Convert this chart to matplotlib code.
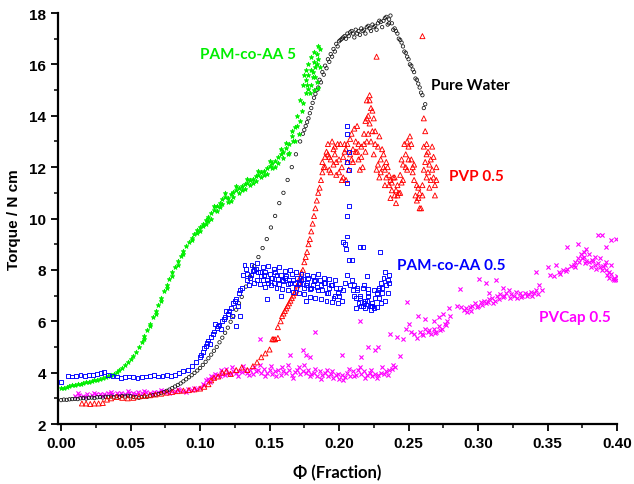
import matplotlib
matplotlib.use("Agg")
import matplotlib.pyplot as plt
from matplotlib.ticker import MultipleLocator

# Pure Water (black open circles)
water_x = [0.000, 0.002, 0.004, 0.006, 0.008, 0.010, 0.012, 0.014, 0.016, 0.018,
           0.020, 0.022, 0.024, 0.026, 0.028, 0.030, 0.032, 0.034, 0.036, 0.038,
           0.040, 0.042, 0.044, 0.046, 0.048, 0.050, 0.052, 0.054, 0.056, 0.058,
           0.060, 0.062, 0.064, 0.066, 0.068, 0.070, 0.072, 0.074, 0.076, 0.078,
           0.080, 0.082, 0.084, 0.086, 0.088, 0.090, 0.092, 0.094, 0.096, 0.098,
           0.100, 0.102, 0.104, 0.106, 0.108, 0.110, 0.112, 0.114, 0.116, 0.118,
           0.120, 0.122, 0.124, 0.126, 0.128, 0.130, 0.133, 0.136, 0.139, 0.142,
           0.145, 0.148, 0.151, 0.154, 0.157, 0.160, 0.163, 0.166, 0.169, 0.172,
           0.174, 0.176, 0.178, 0.180, 0.182, 0.184, 0.186, 0.188, 0.190, 0.192,
           0.194, 0.196, 0.198, 0.200, 0.202, 0.204, 0.206, 0.208, 0.210, 0.212,
           0.214, 0.216, 0.218, 0.220, 0.222, 0.224, 0.226, 0.228, 0.230, 0.232,
           0.234, 0.236, 0.238, 0.240, 0.242, 0.244, 0.246, 0.248, 0.250, 0.252,
           0.254, 0.256, 0.258, 0.260, 0.262,
           0.205, 0.211, 0.215, 0.219, 0.223, 0.227, 0.231, 0.235, 0.239, 0.243,
           0.247, 0.251, 0.255, 0.259, 0.261, 0.237, 0.233, 0.229,
           0.201, 0.203, 0.207, 0.209, 0.213, 0.217, 0.221, 0.225, 0.236, 0.241,
           0.245, 0.249, 0.253, 0.257, 0.199, 0.197, 0.195, 0.193, 0.191, 0.189,
           0.187, 0.185, 0.183, 0.181, 0.179, 0.177, 0.175]
water_y = [2.93, 2.95, 2.94, 2.96, 2.97, 2.98, 2.97, 3.00, 3.01, 2.99,
           3.02, 3.03, 3.01, 3.04, 3.05, 3.03, 3.06, 3.05, 3.07, 3.04,
           3.08, 3.06, 3.09, 3.07, 3.10, 3.08, 3.06, 3.04, 3.02, 3.05,
           3.07, 3.06, 3.10, 3.12, 3.14, 3.17, 3.20, 3.24, 3.29, 3.34,
           3.40, 3.46, 3.52, 3.58, 3.66, 3.74, 3.82, 3.90, 3.99, 4.08,
           4.18, 4.30, 4.42, 4.56, 4.70, 4.85, 5.00, 5.18, 5.36, 5.55,
           5.75, 5.98, 6.20, 6.45, 6.70, 6.95, 7.35, 7.75, 8.15, 8.50,
           8.85, 9.20, 9.65, 10.10, 10.60, 11.00, 11.50, 12.00, 12.50, 13.00,
           13.30, 13.60, 13.90, 14.30, 14.70, 15.00, 15.40, 15.70, 15.95, 16.20,
           16.40, 16.60, 16.80, 16.90, 17.00, 17.10, 17.20, 17.25, 17.20, 17.35,
           17.30, 17.40, 17.35, 17.45, 17.40, 17.55, 17.50, 17.60, 17.65, 17.70,
           17.85, 17.75, 17.60, 17.40, 17.20, 16.95, 16.70, 16.45, 16.20, 15.95,
           15.70, 15.40, 15.10, 14.80, 14.45,
           17.00, 17.05, 17.15, 17.20, 17.30, 17.35, 17.45, 17.55, 17.35, 17.00,
           16.50, 16.00, 15.45, 14.90, 14.30, 17.90, 17.80, 17.70,
           16.95, 17.05, 17.10, 17.30, 17.20, 17.30, 17.50, 17.45, 17.60, 17.30,
           16.85, 16.30, 15.80, 15.25, 16.70, 16.50, 16.30, 16.10, 15.85, 15.60,
           15.30, 15.10, 14.85, 14.50, 14.10, 13.75, 13.45]

# PAM-co-AA 5 (green)
pam5_x = [0.000, 0.002, 0.004, 0.006, 0.008, 0.010, 0.012, 0.014, 0.016, 0.018,
          0.020, 0.022, 0.024, 0.026, 0.028, 0.030, 0.032, 0.034, 0.036, 0.038,
          0.040, 0.042, 0.044, 0.046, 0.048, 0.050, 0.052, 0.054, 0.056, 0.058,
          0.060, 0.062, 0.064, 0.066, 0.068, 0.070, 0.072, 0.074, 0.076, 0.078,
          0.080, 0.082, 0.084, 0.086, 0.088, 0.090, 0.092, 0.094, 0.096, 0.098,
          0.100, 0.102, 0.104, 0.106, 0.108, 0.110, 0.112, 0.114, 0.116, 0.118,
          0.120, 0.122, 0.124, 0.126, 0.128, 0.130, 0.132, 0.134, 0.136, 0.138,
          0.140, 0.142, 0.144, 0.146, 0.148, 0.150, 0.152, 0.154, 0.156, 0.158,
          0.160, 0.162, 0.164, 0.166, 0.168, 0.170, 0.172, 0.174, 0.176, 0.178,
          0.180, 0.182, 0.184, 0.185,
          0.100, 0.104, 0.108, 0.112, 0.116, 0.120, 0.124, 0.128, 0.132, 0.136,
          0.140, 0.144, 0.148, 0.152, 0.156, 0.160, 0.164, 0.168, 0.172, 0.174,
          0.176, 0.178, 0.180, 0.182, 0.184, 0.176, 0.178, 0.180, 0.182, 0.184,
          0.175, 0.179, 0.181, 0.183, 0.185, 0.110, 0.118, 0.126, 0.134, 0.142,
          0.150, 0.158, 0.162, 0.166, 0.170, 0.186, 0.186,
          0.094, 0.098, 0.102, 0.106, 0.114, 0.122, 0.130, 0.138, 0.146, 0.154,
          0.163, 0.167, 0.171, 0.173, 0.177, 0.181, 0.183, 0.185, 0.060, 0.064,
          0.068, 0.072, 0.076, 0.080, 0.084, 0.088]
pam5_y = [3.40, 3.42, 3.45, 3.47, 3.50, 3.52, 3.55, 3.57, 3.60, 3.62,
          3.65, 3.67, 3.70, 3.72, 3.76, 3.79, 3.83, 3.87, 3.91, 3.96,
          4.02, 4.10, 4.18, 4.28, 4.40, 4.52, 4.66, 4.82, 5.00, 5.20,
          5.42, 5.65, 5.90, 6.15, 6.40, 6.65, 6.92, 7.18, 7.42, 7.66,
          7.90, 8.12, 8.35, 8.55, 8.75, 8.92, 9.10, 9.25, 9.40, 9.55,
          9.68, 9.80, 9.95, 10.05, 10.20, 10.35, 10.50, 10.62, 10.75, 10.85,
          10.80, 10.95, 11.05, 11.10, 11.20, 11.25, 11.35, 11.40, 11.50, 11.55,
          11.65, 11.70, 11.80, 11.85, 11.95, 12.05, 12.15, 12.25, 12.40, 12.50,
          12.60, 12.75, 12.90, 13.20, 13.55, 14.00, 14.60, 15.20, 15.40, 15.60,
          15.80, 16.10, 16.40, 16.70,
          9.50, 9.80, 10.00, 10.30, 10.55, 10.65, 10.85, 11.00, 11.15, 11.30,
          11.45, 11.60, 11.75, 11.95, 12.15, 12.35, 12.55, 13.00, 13.80, 14.50,
          14.90, 15.05, 15.20, 15.00, 15.30, 15.80, 16.00, 16.30, 16.50, 16.00,
          15.60, 14.90, 15.50, 15.90, 15.10, 10.50, 11.00, 11.25, 11.55, 11.85,
          12.25, 12.70, 12.95, 13.40, 13.60, 16.60, 15.90,
          9.15, 9.45, 9.70, 9.90, 10.45, 10.70, 11.10, 11.40, 11.70, 12.00,
          12.50, 13.00, 13.30, 14.20, 15.20, 15.70, 15.50, 16.20, 5.30, 5.80,
          6.30, 6.80, 7.30, 7.75, 8.20, 8.60]

# PVP 0.5 (red open triangles)
pvp_x = [0.015, 0.018, 0.021, 0.024, 0.027, 0.030, 0.033, 0.036, 0.040, 0.044,
         0.048, 0.052, 0.056, 0.060, 0.064, 0.068, 0.072, 0.076, 0.080, 0.084,
         0.088, 0.092, 0.096, 0.100, 0.103, 0.106, 0.108, 0.110, 0.113, 0.116,
         0.119, 0.122, 0.126, 0.130, 0.134, 0.138, 0.141, 0.144, 0.147, 0.150,
         0.152, 0.154, 0.156, 0.158, 0.160, 0.162, 0.164, 0.166, 0.168, 0.170,
         0.172, 0.174, 0.176, 0.178, 0.180, 0.182, 0.184, 0.186, 0.188, 0.190,
         0.192, 0.194, 0.196, 0.198, 0.200, 0.202, 0.204, 0.206, 0.208, 0.210,
         0.212, 0.214, 0.216, 0.218, 0.220, 0.222, 0.224, 0.226, 0.228, 0.230,
         0.232, 0.234, 0.236, 0.238, 0.240, 0.242, 0.244, 0.246, 0.248, 0.250,
         0.252, 0.254, 0.256, 0.258, 0.260, 0.262, 0.264, 0.266, 0.268, 0.270,
         0.189, 0.193, 0.197, 0.199, 0.203, 0.207, 0.209, 0.211, 0.213, 0.217,
         0.219, 0.221, 0.223, 0.225, 0.227, 0.229, 0.231, 0.233, 0.235, 0.237,
         0.239, 0.241, 0.243, 0.245, 0.247, 0.249, 0.251, 0.253, 0.255, 0.257,
         0.259, 0.261, 0.263, 0.265, 0.267, 0.269, 0.220, 0.222, 0.195, 0.205,
         0.227, 0.260, 0.261, 0.262, 0.263, 0.156, 0.153,
         0.188, 0.190, 0.191, 0.192, 0.193, 0.194, 0.196, 0.197, 0.198, 0.200,
         0.201, 0.202, 0.203, 0.204, 0.205, 0.206, 0.208, 0.209, 0.210, 0.212,
         0.213, 0.214, 0.215, 0.216, 0.218, 0.219, 0.220, 0.221, 0.222, 0.223,
         0.224, 0.225, 0.226, 0.228, 0.229, 0.230, 0.232, 0.233, 0.234, 0.236,
         0.237, 0.238, 0.240, 0.241, 0.242, 0.244, 0.245, 0.246, 0.248, 0.249,
         0.250, 0.252, 0.253, 0.254, 0.256, 0.257, 0.258, 0.260, 0.261, 0.263,
         0.264, 0.265, 0.266, 0.267, 0.268, 0.269, 0.270,
         0.171, 0.173, 0.175, 0.177, 0.179, 0.181, 0.183, 0.185, 0.187, 0.163,
         0.165, 0.167, 0.169, 0.161, 0.159]
pvp_y = [2.80, 2.80, 2.78, 2.80, 2.80, 2.82, 2.95, 3.00, 3.05, 3.02,
         3.00, 3.02, 3.08, 3.10, 3.12, 3.15, 3.18, 3.22, 3.25, 3.28,
         3.30, 3.32, 3.35, 3.38, 3.45, 3.55, 3.70, 3.80, 3.85, 4.00,
         4.05, 3.95, 4.10, 4.20, 4.10, 4.25, 4.40, 4.60, 4.75, 4.90,
         5.30, 5.30, 5.35, 6.00, 6.30, 6.50, 6.70, 6.90, 7.10, 7.40,
         7.70, 8.00, 8.50, 9.00, 9.50, 10.10, 10.70, 11.20, 11.80, 12.40,
         12.50, 12.30, 12.70, 12.20, 11.80, 12.00, 12.60, 12.20, 13.10, 12.70,
         13.00, 12.30, 12.80, 13.30, 13.90, 14.60, 14.20, 13.40, 12.80, 12.30,
         12.00, 11.60, 11.30, 11.10, 10.90, 11.30, 11.70, 12.10, 12.50, 12.80,
         12.30, 11.50, 10.70, 10.40, 11.30, 12.20, 11.80, 12.30, 11.60, 12.00,
         12.00, 11.90, 12.50, 12.90, 11.60, 11.90, 12.30, 13.50, 12.60, 12.00,
         12.60, 13.30, 13.00, 12.50, 11.90, 11.60, 12.70, 11.30, 12.00, 10.80,
         11.60, 10.60, 11.00, 11.40, 12.90, 11.90, 13.20, 12.00, 10.90, 11.20,
         10.40, 12.80, 12.50, 11.20, 12.80, 11.30, 14.60, 14.80, 13.00, 11.50,
         16.30, 17.10, 13.90, 13.40, 12.90, 5.77, 5.30,
         12.20, 12.00, 12.60, 12.90, 12.40, 11.80, 12.10, 12.80, 11.70, 12.30,
         12.90, 11.50, 12.40, 12.90, 12.70, 12.90, 12.50, 13.30, 12.20, 12.60,
         13.60, 12.90, 11.90, 12.40, 12.90, 13.80, 13.00, 14.00, 13.70, 14.30,
         13.40, 13.90, 12.90, 12.10, 13.20, 11.80, 12.50, 11.90, 12.20, 11.70,
         11.50, 11.40, 11.60, 11.10, 10.90, 11.00, 12.30, 11.50, 12.00, 13.00,
         12.30, 12.90, 11.80, 12.10, 11.30, 10.80, 11.00, 10.90, 11.90, 11.60,
         12.60, 12.10, 11.50, 11.90, 12.40, 10.90, 11.50,
         7.50, 7.90, 8.30, 8.70, 9.20, 9.80, 10.40, 11.00, 11.50, 6.60,
         6.80, 7.00, 7.20, 6.40, 6.20]

# PAM-co-AA 0.5 (blue open squares)
pam05_x = [0.000, 0.005, 0.008, 0.011, 0.014, 0.017, 0.020, 0.023, 0.026, 0.029,
           0.031, 0.034, 0.037, 0.040, 0.043, 0.046, 0.049, 0.052, 0.055, 0.058,
           0.061, 0.064, 0.067, 0.070, 0.073, 0.076, 0.079, 0.082, 0.085, 0.088,
           0.091, 0.094, 0.097, 0.100, 0.102, 0.104, 0.106, 0.108, 0.110, 0.112,
           0.114, 0.116, 0.118, 0.120, 0.122, 0.124, 0.126, 0.128, 0.130, 0.131,
           0.132, 0.133, 0.134, 0.136, 0.138, 0.140, 0.142, 0.144, 0.146, 0.148,
           0.150, 0.152, 0.154, 0.156, 0.158, 0.160, 0.162, 0.164, 0.166, 0.168,
           0.170, 0.172, 0.174, 0.176, 0.178, 0.180, 0.182, 0.184, 0.186, 0.188,
           0.190, 0.192, 0.194, 0.196, 0.198, 0.200, 0.202, 0.204, 0.206, 0.208,
           0.210, 0.212, 0.214, 0.216, 0.218, 0.220, 0.222, 0.224, 0.226, 0.228,
           0.230, 0.232, 0.234, 0.236,
           0.107, 0.111, 0.115, 0.119, 0.123, 0.126, 0.129, 0.127,
           0.135, 0.137, 0.139, 0.141, 0.143, 0.145, 0.147, 0.149, 0.151, 0.153,
           0.155, 0.157, 0.159, 0.161, 0.163, 0.165, 0.167, 0.169, 0.171, 0.173,
           0.175, 0.177, 0.179, 0.181, 0.183, 0.185, 0.187, 0.189, 0.191, 0.193,
           0.195, 0.197, 0.199, 0.148, 0.158, 0.176,
           0.206, 0.206, 0.207, 0.206, 0.207, 0.206, 0.207, 0.206, 0.206, 0.205,
           0.207, 0.204, 0.217, 0.215, 0.2295, 0.220, 0.221, 0.203, 0.209,
           0.211, 0.213, 0.215, 0.217, 0.219, 0.221, 0.223, 0.225, 0.227, 0.229,
           0.231, 0.233, 0.235, 0.212, 0.218, 0.224, 0.230,
           0.134, 0.137, 0.139, 0.141, 0.143, 0.145, 0.147, 0.149, 0.151, 0.153,
           0.155, 0.157, 0.159, 0.161, 0.163, 0.165, 0.167, 0.169, 0.171, 0.173,
           0.175, 0.177, 0.179, 0.181, 0.183, 0.185, 0.187, 0.189, 0.191, 0.193,
           0.195, 0.197, 0.199, 0.201, 0.203, 0.209, 0.211, 0.213, 0.215, 0.217,
           0.219, 0.221, 0.223, 0.225, 0.227, 0.229, 0.231, 0.233, 0.235, 0.236,
           0.101, 0.103, 0.105, 0.109, 0.113, 0.117, 0.121, 0.125, 0.129]
pam05_y = [3.65, 3.88, 3.85, 3.87, 3.90, 3.88, 3.92, 3.90, 3.93, 3.97,
           4.02, 3.92, 3.88, 3.85, 3.80, 3.82, 3.85, 3.83, 3.80, 3.82,
           3.85, 3.88, 3.92, 3.85, 3.88, 3.90, 3.88, 3.92, 3.98, 4.05,
           4.10, 4.25, 4.40, 4.60, 4.80, 5.05, 5.25, 5.40, 5.60, 5.75,
           5.85, 6.00, 6.15, 6.30, 6.50, 6.70, 6.85, 7.10, 7.30, 7.80,
           8.20, 8.05, 7.85, 7.70, 7.95, 8.05, 7.90, 7.75, 7.80, 7.60,
           7.85, 7.70, 7.90, 7.65, 7.80, 7.55, 7.75, 7.60, 7.85, 7.50,
           7.70, 7.45, 7.65, 7.40, 7.70, 7.30, 7.55, 7.35, 7.60, 7.20,
           7.50, 7.10, 7.40, 6.90, 7.30, 7.00, 6.80, 7.50, 7.80, 7.40,
           7.20, 6.90, 6.70, 6.60, 6.70, 6.80, 6.60, 6.70, 6.90, 7.20,
           7.50, 7.70, 7.40, 7.80,
           5.10, 5.90, 5.70, 6.40, 6.20, 5.80, 6.20, 6.60,
           7.40, 8.20, 7.50, 8.25, 7.45, 8.10, 7.35, 8.15, 7.40, 8.05,
           7.30, 8.10, 7.25, 7.95, 7.20, 8.00, 7.15, 7.90, 7.10, 7.85,
           7.05, 7.80, 6.95, 7.75, 6.90, 7.85, 6.85, 7.70, 6.80, 7.65,
           6.75, 7.60, 6.70, 6.85, 7.00, 6.80,
           13.60, 13.30, 12.60, 12.20, 11.90, 11.40, 10.50, 10.10, 9.30, 8.80,
           8.40, 9.00, 8.90, 8.90, 8.70, 7.75, 7.25, 9.10, 8.40,
           7.40, 7.20, 7.00, 7.30, 6.50, 7.10, 6.45, 7.20, 6.55, 6.90,
           7.10, 6.80, 7.60, 6.50, 7.40, 6.60, 6.70,
           7.60, 7.80, 8.00, 7.60, 7.90, 7.60, 7.90, 7.50, 7.70, 7.50,
           7.80, 7.45, 7.60, 7.70, 7.45, 7.50, 7.60, 7.30, 7.50, 7.60,
           7.30, 7.50, 7.25, 7.40, 7.60, 7.20, 7.40, 7.50, 7.10, 7.30,
           7.40, 7.00, 7.10, 7.30, 7.20, 7.60, 7.00, 7.30, 6.90, 6.60,
           6.80, 7.00, 6.60, 6.50, 7.10, 7.30, 7.30, 7.90, 7.10, 7.50,
           4.70, 4.95, 5.15, 5.50, 5.80, 6.10, 6.40, 6.80, 7.20]

# PVCap 0.5 (magenta crosses)
pvcap_x = [0.010, 0.013, 0.016, 0.019, 0.022, 0.025, 0.028, 0.031, 0.034, 0.037,
           0.040, 0.043, 0.046, 0.049, 0.052, 0.055, 0.058, 0.061, 0.064, 0.067,
           0.070, 0.073, 0.076, 0.079, 0.082, 0.085, 0.088, 0.091, 0.094, 0.097,
           0.100, 0.102, 0.104, 0.106, 0.108, 0.110, 0.112, 0.114, 0.116, 0.118,
           0.120, 0.122, 0.124, 0.126, 0.128, 0.130, 0.132, 0.134, 0.136, 0.138,
           0.140, 0.142, 0.144, 0.146, 0.148, 0.150, 0.152, 0.154, 0.156, 0.158,
           0.160, 0.162, 0.164, 0.166, 0.168, 0.170, 0.172, 0.174, 0.176, 0.178,
           0.180, 0.182, 0.184, 0.186, 0.188, 0.190, 0.192, 0.194, 0.196, 0.198,
           0.200, 0.202, 0.204, 0.206, 0.208, 0.210, 0.212, 0.214, 0.216, 0.218,
           0.220, 0.222, 0.224, 0.226, 0.228, 0.230, 0.232, 0.234, 0.236, 0.238,
           0.240,
           0.143, 0.174, 0.165, 0.183, 0.215, 0.221, 0.226, 0.228, 0.244, 0.237,
           0.242, 0.202, 0.216, 0.176, 0.179,
           0.246, 0.248, 0.249, 0.250, 0.252, 0.254, 0.256, 0.258, 0.260, 0.262,
           0.264, 0.266, 0.268, 0.270, 0.272, 0.274, 0.276, 0.278, 0.280,
           0.257, 0.262, 0.268, 0.275, 0.279, 0.272,
           0.285, 0.287, 0.288, 0.290, 0.292, 0.294, 0.296, 0.298, 0.300, 0.302,
           0.304, 0.306, 0.308, 0.310, 0.312, 0.314, 0.316, 0.318, 0.320, 0.322,
           0.324, 0.326, 0.328, 0.330, 0.332, 0.334, 0.336, 0.338, 0.340, 0.342,
           0.344, 0.346,
           0.301, 0.306, 0.308, 0.313, 0.342, 0.318,
           0.352, 0.355, 0.358, 0.361, 0.364, 0.367, 0.370, 0.372, 0.374, 0.376,
           0.378, 0.380, 0.382, 0.384, 0.386, 0.388, 0.390, 0.392, 0.394, 0.396,
           0.398, 0.400,
           0.350, 0.364, 0.372, 0.378, 0.386, 0.389, 0.392, 0.396, 0.399, 0.356,
           0.380, 0.384, 0.388, 0.392, 0.396, 0.398, 0.394, 0.376, 0.370,
           0.103, 0.107, 0.111, 0.115, 0.119, 0.123, 0.127, 0.131, 0.135, 0.139,
           0.143, 0.147, 0.151, 0.155, 0.159, 0.163, 0.167, 0.171, 0.175, 0.179,
           0.183, 0.187, 0.191, 0.195, 0.199, 0.203, 0.207, 0.211, 0.215, 0.219,
           0.223, 0.227, 0.231, 0.235, 0.239,
           0.012, 0.018, 0.024, 0.030, 0.036, 0.042, 0.048, 0.054, 0.060, 0.066,
           0.072, 0.078, 0.084, 0.090, 0.096,
           0.2605, 0.265, 0.269, 0.273, 0.277, 0.291, 0.295, 0.299, 0.303, 0.307,
           0.311, 0.315, 0.319, 0.323, 0.327, 0.331, 0.335, 0.339, 0.343, 0.359,
           0.363, 0.369, 0.373, 0.377, 0.381, 0.385, 0.389, 0.393, 0.397, 0.399,
           0.375, 0.383, 0.391]
pvcap_y = [3.10, 3.12, 3.10, 3.15, 3.12, 3.15, 3.18, 3.15, 3.20, 3.18,
           3.22, 3.20, 3.18, 3.22, 3.20, 3.24, 3.22, 3.25, 3.22, 3.26,
           3.24, 3.28, 3.25, 3.30, 3.28, 3.32, 3.30, 3.35, 3.33, 3.38,
           3.42, 3.55, 3.70, 3.75, 3.85, 3.80, 3.92, 3.88, 3.95, 3.90,
           4.00, 3.95, 4.05, 3.98, 4.08, 4.02, 4.10, 4.00, 4.12, 3.95,
           4.05, 4.10, 3.98, 4.15, 4.00, 4.10, 3.95, 4.05, 4.12, 3.90,
           4.05, 4.00, 4.10, 3.92, 4.02, 4.10, 3.95, 4.05, 3.98, 4.12,
           3.95, 4.00, 3.88, 4.05, 3.90, 4.00, 3.85, 3.95, 3.80, 3.92,
           3.75, 3.90, 3.82, 4.00, 3.88, 4.05, 3.92, 4.10, 3.95, 4.05,
           3.90, 4.00, 3.85, 3.95, 3.90, 4.00, 3.95, 4.05, 4.10, 4.15,
           4.20,
           5.30, 4.90, 4.70, 5.60, 6.00, 5.00, 4.90, 5.00, 4.65, 5.50,
           5.40, 4.70, 4.60, 4.70, 4.60,
           5.30, 5.70, 6.75, 5.90, 5.60, 5.50, 5.35, 5.60, 5.50, 5.70,
           5.60, 5.50, 5.70, 5.60, 5.80, 5.70, 5.90, 6.00, 6.20,
           6.20, 6.10, 6.00, 6.30, 6.50, 6.15,
           6.60, 7.25, 6.55, 6.45, 6.35, 6.55, 6.60, 6.70, 6.60, 6.75,
           6.80, 6.70, 6.85, 6.90, 6.80, 7.00, 7.05, 6.95, 7.10, 7.20,
           7.05, 7.00, 6.90, 7.10, 7.00, 7.10, 7.05, 7.15, 7.10, 7.20,
           7.40, 7.20,
           7.64, 7.50, 7.10, 7.60, 7.90, 7.30,
           7.80, 7.75, 7.90, 8.00, 8.05, 8.15, 8.30, 8.45, 8.60, 8.50,
           8.35, 8.30, 8.40, 8.20, 8.25, 8.10, 8.15, 8.00, 7.90, 7.85,
           7.70, 7.75,
           8.10, 8.90, 9.00, 8.80, 9.35, 9.35, 8.90, 9.15, 9.20, 8.20,
           8.60, 8.50, 8.45, 8.30, 8.20, 7.60, 7.70, 8.70, 8.10,
           3.50, 3.65, 3.95, 4.10, 4.15, 4.20, 3.85, 4.25, 3.90, 4.20,
           4.30, 3.85, 4.25, 3.85, 4.20, 4.30, 3.80, 4.20, 4.30, 3.85,
           4.15, 3.75, 4.10, 4.05, 3.95, 3.70, 4.15, 3.85, 4.20, 3.80,
           4.10, 3.80, 4.20, 3.90, 4.30,
           3.20, 3.05, 3.22, 3.10, 3.25, 3.12, 3.28, 3.15, 3.30, 3.18,
           3.32, 3.20, 3.35, 3.25, 3.40,
           5.45, 5.65, 5.55, 5.65, 5.85, 6.50, 6.40, 6.55, 6.65, 6.75,
           6.70, 6.85, 7.00, 6.90, 7.15, 6.95, 7.00, 7.00, 7.05, 7.85,
           7.95, 8.20, 8.30, 8.25, 8.10, 8.05, 8.00, 7.80, 7.65, 7.60,
           8.45, 8.35, 8.20]

labels = ["PAM-co-AA 5", "Pure Water", "PVP 0.5", "PAM-co-AA 0.5", "PVCap 0.5"]

fig = plt.figure(figsize=(6.34, 4.85), dpi=100)
ax = fig.add_axes([0.0915, 0.1237, 0.8817, 0.8474])

ax.scatter(pvcap_x, pvcap_y, marker="x", s=9, color="#ff00ff", linewidths=0.8, zorder=2)
ax.scatter(water_x, water_y, marker="o", s=6, facecolors="none", edgecolors="#111111",
           linewidths=0.55, zorder=3)
ax.scatter(pam5_x, pam5_y, marker="*", s=11, color="#00ee00", linewidths=0.6, zorder=3)
ax.scatter(pvp_x, pvp_y, marker="^", s=13, facecolors="none", edgecolors="#ff0000",
           linewidths=0.65, zorder=4)
ax.scatter(pam05_x, pam05_y, marker="s", s=8, facecolors="none", edgecolors="#0000ff",
           linewidths=0.65, zorder=4)

ax.set_xlim(-0.0022, 0.40)
ax.set_ylim(2, 18)
ax.spines["top"].set_visible(False)
ax.spines["right"].set_visible(False)
for s in ("left", "bottom"):
    ax.spines[s].set_linewidth(1.6)
ax.xaxis.set_major_locator(MultipleLocator(0.05))
ax.xaxis.set_minor_locator(MultipleLocator(0.025))
ax.yaxis.set_major_locator(MultipleLocator(2))
ax.yaxis.set_minor_locator(MultipleLocator(1))
ax.tick_params(which="major", direction="out", length=5, width=1.3)
ax.tick_params(which="minor", direction="out", length=3, width=1.1)
ax.set_xticklabels([f"{v:.2f}" for v in ax.get_xticks()])
for lab in ax.get_xticklabels() + ax.get_yticklabels():
    lab.set_fontfamily("Liberation Sans")
    lab.set_fontweight("bold")
    lab.set_fontsize(11)

ax.set_ylabel("Torque / N cm", fontsize=11, fontweight="bold", family="Liberation Sans", labelpad=6)
ax.set_xlabel("Φ (Fraction)", fontsize=12, fontweight="bold", family="Lato", labelpad=10)

ax.text(0.100, 16.4, labels[0], color="#00ee00", fontsize=11, fontweight="bold", family="Lato", va="center")
ax.text(0.266, 15.2, labels[1], color="#000000", fontsize=11, fontweight="bold", family="Lato", va="center")
ax.text(0.279, 11.65, labels[2], color="#ff0000", fontsize=11, fontweight="bold", family="Lato", va="center")
ax.text(0.2417, 8.2, labels[3], color="#0000ff", fontsize=11, fontweight="bold", family="Lato", va="center")
ax.text(0.344, 6.15, labels[4], color="#ff00ff", fontsize=11, fontweight="bold", family="Lato", va="center")

fig.savefig("out.png", dpi=100)
